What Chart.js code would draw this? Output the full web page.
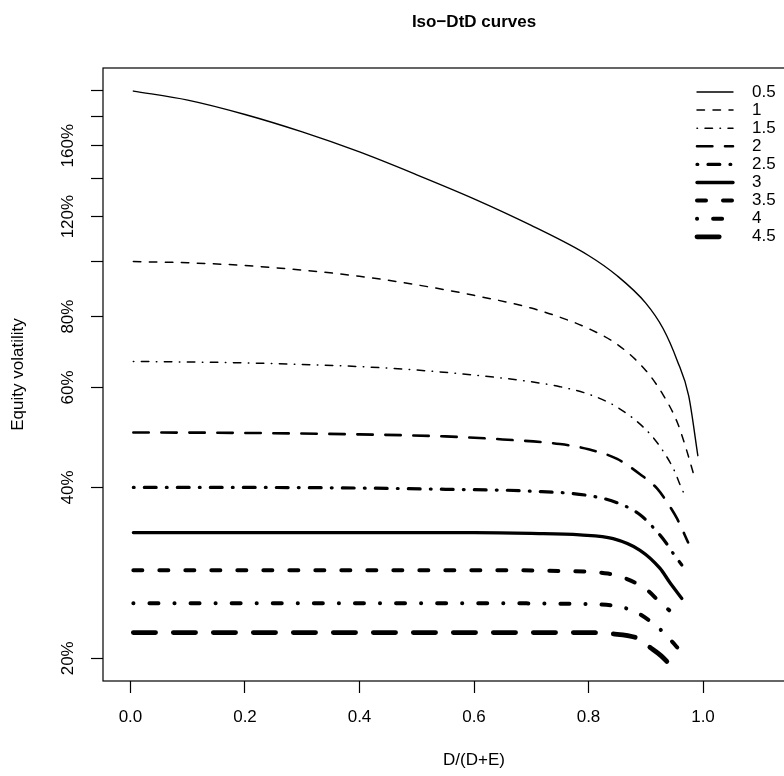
<!DOCTYPE html>
<html>
<head>
<meta charset="utf-8">
<script src="https://cdn.jsdelivr.net/npm/chart.js@4.4.1/dist/chart.umd.min.js"></script>
<style>
  html, body { margin: 0; padding: 0; background: #fff; overflow: hidden; }
  #wrap { width: 784px; height: 776px; overflow: hidden; }
</style>
</head>
<body>
<div id="wrap"><canvas id="iso-chart" width="880" height="776"></canvas></div>
<script>
// iso-DtD curves: leverage D/(D+E) and equity volatility (%)
const dtdLevels = ["0.5", "1", "1.5", "2", "2.5", "3", "3.5", "4", "4.5"];

const lev05 = [0.005, 0.1, 0.2, 0.3, 0.4, 0.5, 0.6, 0.7, 0.8, 0.85, 0.9, 0.93, 0.955, 0.975, 0.991];
const vol05 = [199.7, 192.5, 181.6, 169.2, 156, 142.2, 129, 115.8, 102.5, 94.4, 84.5, 76.3, 66.9, 58, 45.5];

const lev10 = [0.005, 0.1, 0.2, 0.3, 0.4, 0.5, 0.6, 0.7, 0.75, 0.8, 0.85, 0.9, 0.93, 0.955, 0.972, 0.983];
const vol10 = [100, 99.5, 98.4, 96.6, 94.2, 91.0, 87.2, 82.8, 79.8, 76.2, 71.5, 64.3, 58.3, 52.1, 46.3, 42.4];

const lev15 = [0.005, 0.2, 0.4, 0.5, 0.6, 0.7, 0.75, 0.8, 0.85, 0.9, 0.925, 0.95, 0.96, 0.97];
const vol15 = [66.7, 66.3, 65.3, 64.4, 63.1, 61.4, 60.2, 58.4, 55.4, 50.6, 47.2, 42.8, 40.4, 38.4];

const lev20 = [0.005, 0.2, 0.4, 0.55, 0.65, 0.75, 0.8, 0.85, 0.89, 0.92, 0.94, 0.955, 0.974];
const vol20 = [50, 49.9, 49.6, 49.2, 48.6, 47.7, 46.7, 44.9, 42.2, 39.8, 37.3, 35.2, 32.0];

const lev25 = [0.005, 0.2, 0.4, 0.55, 0.7, 0.8, 0.85, 0.89, 0.92, 0.935, 0.946, 0.963];
const vol25 = [40, 40, 39.9, 39.7, 39.4, 38.7, 37.6, 35.8, 33.4, 32.0, 30.8, 29.2];

const lev30 = [0.005, 0.2, 0.4, 0.6, 0.7, 0.785, 0.843, 0.89, 0.925, 0.942, 0.963];
const vol30 = [33.3, 33.3, 33.3, 33.3, 33.2, 33.0, 32.5, 31.0, 28.8, 27.2, 25.5];

const lev35 = [0.005, 0.2, 0.4, 0.6, 0.75, 0.834, 0.858, 0.884, 0.904, 0.925, 0.941];
const vol35 = [28.6, 28.6, 28.6, 28.6, 28.5, 28.2, 27.8, 27.1, 26.3, 25.1, 24.3];

const lev40 = [0.005, 0.2, 0.4, 0.6, 0.808, 0.859, 0.887, 0.904, 0.925, 0.946, 0.955];
const vol40 = [25.0, 25.0, 25.0, 25.0, 24.9, 24.6, 24.0, 23.4, 22.5, 21.4, 20.9];

const lev45 = [0.005, 0.2, 0.4, 0.6, 0.808, 0.838, 0.885, 0.9075, 0.927, 0.944];
const vol45 = [22.2, 22.2, 22.2, 22.2, 22.2, 22.1, 21.7, 20.9, 20.2, 19.4];

const xTicks = [0, 0.2, 0.4, 0.6, 0.8, 1.0, 1.2];
const yTicks = [20, 40, 60, 80, 100, 120, 140, 160, 180, 200];
const yLabelled = [20, 40, 60, 80, 120, 160];

const chartTitle = "Iso\u2212DtD curves";
const xTitle = "D/(D+E)";
const yTitle = "Equity volatility";

const levs = [lev05, lev10, lev15, lev20, lev25, lev30, lev35, lev40, lev45];
const vols = [vol05, vol10, vol15, vol20, vol25, vol30, vol35, vol40, vol45];

// line width and dash pattern per curve (round caps, like R)
const widths = [1.4, 1.5, 1.5, 2.6, 3.2, 3.3, 4, 4, 4.8];
const dashes = [
  [],
  [7.5, 8.5],
  [0.5, 7.5, 7.5, 7.5],
  [15.4, 12.6],
  [0.8, 10.2, 11.8, 10.2],
  [],
  [9, 17],
  [0.1, 16, 9, 16],
  [22.2, 17.8],
];

const FONT = '"Liberation Sans", Arial, sans-serif';

//데이터셋 생성
const datasets = dtdLevels.map((lab, i) => ({
  label: lab,
  data: levs[i].map((x, j) => ({ x: x, y: vols[i][j] })),
  borderColor: "#000",
  borderWidth: widths[i],
  borderDash: dashes[i],
  borderCapStyle: "round",
  borderJoinStyle: "round",
  pointRadius: 0,
  fill: false,
  cubicInterpolationMode: "monotone",
}));

// R style box, titles, rotated y labels and legend
const rDecor = {
  id: "rDecor",
  afterDraw(chart) {
    const { ctx, chartArea: a, scales } = chart;
    const cx = (a.left + a.right) / 2;
    ctx.save();
    ctx.strokeStyle = "#000";
    ctx.lineWidth = 1.2;
    ctx.strokeRect(a.left, a.top, a.right - a.left, a.bottom - a.top);

    ctx.fillStyle = "#000";
    ctx.textAlign = "center";
    ctx.textBaseline = "middle";
    ctx.font = "bold 17px " + FONT;
    ctx.fillText(chartTitle, cx, 22);

    ctx.font = "17px " + FONT;
    ctx.fillText(xTitle, cx, 760);

    yLabelled.forEach(v => {
      ctx.save();
      ctx.translate(68, scales.y.getPixelForValue(v));
      ctx.rotate(-Math.PI / 2);
      ctx.fillText(v + "%", 0, 0);
      ctx.restore();
    });

    ctx.save();
    ctx.translate(18, (a.top + a.bottom) / 2);
    ctx.rotate(-Math.PI / 2);
    ctx.fillText(yTitle, 0, 0);
    ctx.restore();

    // legend
    chart.data.datasets.forEach((ds, i) => {
      const yy = 92 + i * 18.1;
      ctx.beginPath();
      ctx.lineWidth = ds.borderWidth;
      ctx.lineCap = "round";
      ctx.setLineDash(ds.borderDash);
      ctx.moveTo(697, yy);
      ctx.lineTo(733, yy);
      ctx.stroke();
      ctx.setLineDash([]);
      ctx.textAlign = "left";
      ctx.fillText(ds.label, 752, yy);
    });
    ctx.restore();
  },
};

const ctx = document.getElementById("iso-chart").getContext("2d");

new Chart(ctx, {
  type: "line",
  data: { datasets: datasets },
  options: {
    responsive: false,
    animation: false,
    devicePixelRatio: 1,
    layout: { padding: { top: 68, right: 35, left: 0, bottom: 0 } },
    plugins: {
      legend: { display: false },
      tooltip: { enabled: false },
      title: { display: false },
    },
    scales: {
      x: {
        type: "linear",
        min: -0.048,
        max: 1.248,
        afterBuildTicks: s => { s.ticks = xTicks.map(v => ({ value: v })); },
        afterFit: s => { s.height = 95; },
        ticks: {
          autoSkip: false,
          maxRotation: 0,
          padding: 14,
          color: "#000",
          font: { family: FONT, size: 17 },
          callback: v => v.toFixed(1),
        },
        grid: { drawOnChartArea: false, tickLength: 12, tickColor: "#000", tickWidth: 1.2 },
        border: { display: false },
      },
      y: {
        type: "logarithmic",
        min: 18.24,
        max: 219.3,
        afterBuildTicks: s => { s.ticks = yTicks.map(v => ({ value: v })); },
        afterFit: s => { s.width = 103; },
        ticks: { display: false },
        grid: { drawOnChartArea: false, tickLength: 12, tickColor: "#000", tickWidth: 1.2 },
        border: { display: false },
      },
    },
  },
  plugins: [rDecor],
});
</script>
</body>
</html>
